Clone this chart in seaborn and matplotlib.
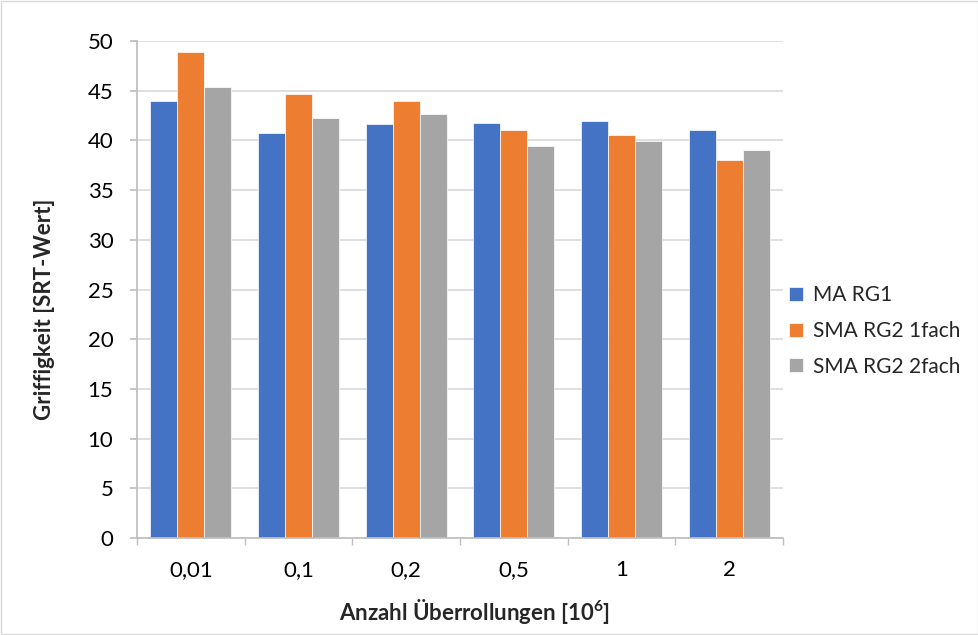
import matplotlib
matplotlib.use("Agg")
import matplotlib.pyplot as plt
import seaborn as sns
import pandas as pd
from matplotlib.patches import Rectangle

categories = ["0,01", "0,1", "0,2", "0,5", "1", "2"]
series_names = ["MA RG1", "SMA RG2 1fach", "SMA RG2 2fach"]
ma_rg1 = [44.0, 40.7, 41.7, 41.8, 42.0, 41.0]
sma_rg2_1fach = [48.9, 44.7, 44.0, 41.0, 40.5, 38.0]
sma_rg2_2fach = [45.4, 42.3, 42.7, 39.4, 39.9, 39.0]
colors = ["#4472C4", "#ED7D31", "#A5A5A5"]
yticks = [0, 5, 10, 15, 20, 25, 30, 35, 40, 45, 50]

rows = []
for name, vals in zip(series_names, [ma_rg1, sma_rg2_1fach, sma_rg2_2fach]):
    for c, v in zip(categories, vals):
        rows.append({"cat": c, "series": name, "value": v})
df = pd.DataFrame(rows)

sns.set_theme(style="white")
plt.rcParams["font.family"] = ["Lato", "DejaVu Sans"]
plt.rcParams["mathtext.fontset"] = "custom"
plt.rcParams["mathtext.rm"] = "Lato"
plt.rcParams["mathtext.bf"] = "Lato:bold"

W, H = 979, 635
fig = plt.figure(figsize=(W / 100, H / 100), dpi=100)
ax = fig.add_axes([137 / W, 1 - 538 / H, (783 - 137) / W, (538 - 41) / H])

sns.barplot(data=df, x="cat", y="value", hue="series", order=categories,
            hue_order=series_names, palette=colors, width=0.75, ax=ax,
            errorbar=None, edgecolor="white", linewidth=0.5, saturation=1)

ax.set_ylim(0, 50)
ax.set_xlim(-0.5, len(categories) - 0.5)
ax.set_yticks(yticks)
ax.yaxis.grid(True, color="#D9D9D9", linewidth=1.2)
ax.set_axisbelow(True)
for s in ["top", "right"]:
    ax.spines[s].set_visible(False)
ax.spines["left"].set_color("#BFBFBF")
ax.spines["bottom"].set_color("#BFBFBF")
ax.tick_params(axis="y", which="major", length=5, color="#BFBFBF", labelsize=16,
               labelcolor="#000000", left=True, pad=12)
ax.set_xticks(range(len(categories)))
ax.set_xticklabels(categories)
ax.set_xticks([i - 0.5 for i in range(len(categories) + 1)], minor=True)
ax.tick_params(axis="x", which="major", length=0, labelsize=16, labelcolor="#000000", pad=16)
ax.tick_params(axis="x", which="minor", length=5, color="#BFBFBF", bottom=True)

ax.set_ylabel("")
ax.set_xlabel("")
fig.text(45 / W, 1 - 309 / H, "Griffigkeit [SRT-Wert]", rotation=90, fontsize=16,
         fontweight="bold", ha="center", va="center")
fig.text(475 / W, 1 - 611 / H, r"Anzahl Überrollungen [10$^{\mathbf{6}}$]", fontsize=16,
         fontweight="bold", ha="center", va="center")

handles, labels = ax.get_legend_handles_labels()
ax.legend(handles, labels, loc="center left", bbox_to_anchor=(789 / W, 1 - 331 / H),
          bbox_transform=fig.transFigure, frameon=False, fontsize=15,
          borderaxespad=0, borderpad=0,
          handlelength=0.68, handleheight=0.68, handletextpad=0.45, labelspacing=0.75)

fig.patches.append(Rectangle((0.001, 0.001), 0.998, 0.998, transform=fig.transFigure,
                             fill=False, edgecolor="#D9D9D9", linewidth=1))

fig.savefig("out.png", dpi=100, facecolor="white")
